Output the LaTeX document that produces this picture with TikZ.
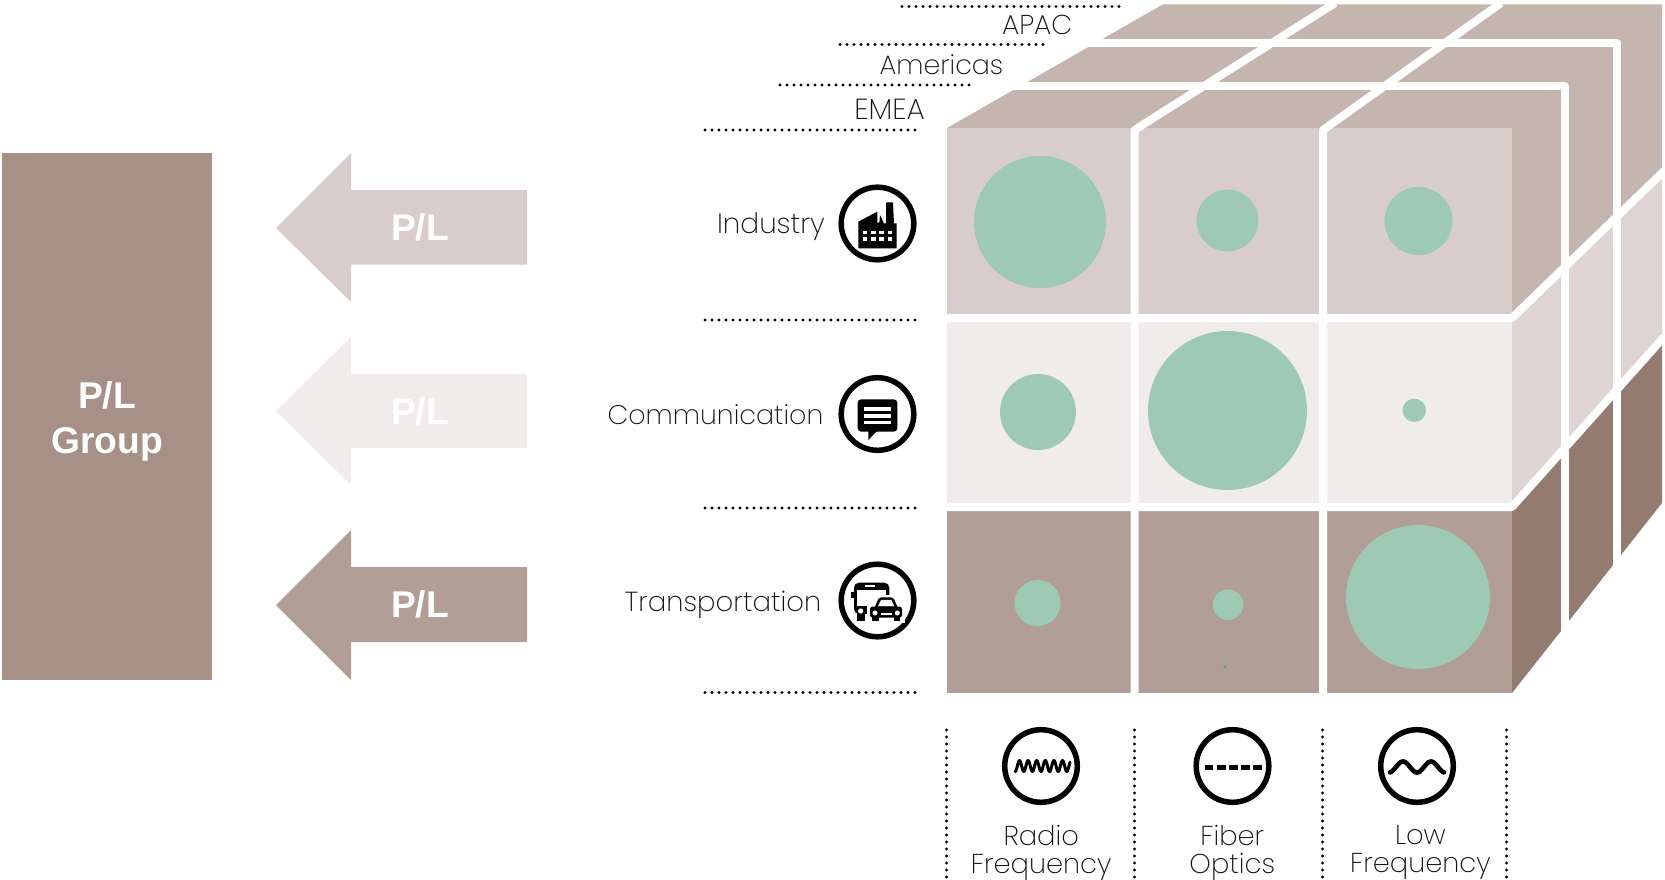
\documentclass[tikz,border=0pt]{standalone}
\usepackage{fontspec}
\setmainfont{Liberation Sans}
\newfontfamily\lightf[UprightFont=* ExtraLight]{Poppins}
\definecolor{topc}{HTML}{C4B5AF}
\definecolor{rowa}{HTML}{D9CDCB}
\definecolor{rowb}{HTML}{F0ECEB}
\definecolor{rowc}{HTML}{B09E97}
\definecolor{sideb}{HTML}{DED4D1}
\definecolor{sidec}{HTML}{947B70}
\definecolor{groupc}{HTML}{A69087}
\definecolor{bub}{HTML}{9EC9B5}
\definecolor{speck}{HTML}{3BA585}
\definecolor{txt}{HTML}{111111}
\tikzset{
  dotline/.style={line width=3.2pt,line cap=round,dash pattern=on 0pt off 7pt,black},
  gap/.style={white,line width=8pt,line join=round},
  bubble/.style={fill=bub,draw=none},
  ring/.style={draw=black,line width=5.5pt,fill=white},
  lab/.style={font=\lightf\fontsize{#1}{28}\selectfont,text=txt,inner sep=0pt},
  labr/.style={lab=#1,anchor=base east},
  labc/.style={lab=27.3,align=center,anchor=center},
  pl/.style={font=\bfseries\fontsize{37.2}{45}\selectfont,text=white,inner sep=0pt,align=center},
  zoomed/.style={x=0.3333pt,y=-0.3333pt},
}
\begin{document}
\begin{tikzpicture}[x=1pt,y=-1pt]
\useasboundingbox (0,0) rectangle (1665,880);
\fill[white] (0,0) rectangle (1665,880);
% left block
\fill[groupc] (2,153) rectangle (212,680);
\node[pl] (group) at (107,421) {P/L\\Group};
% arrows
\fill[rowa] (276,228) -- (351,153) -- (351,190) -- (527,190) -- (527,264.5) -- (351,264.5) -- (351,302) -- cycle;
\node[pl] (pla) at (420,227.5) {P/L};
\fill[rowb] (276,411) -- (351,337) -- (351,374) -- (527,374) -- (527,448) -- (351,448) -- (351,485) -- cycle;
\node[pl] (plb) at (420,411) {P/L};
\fill[rowc] (276,605) -- (351,530) -- (351,567) -- (527,567) -- (527,642) -- (351,642) -- (351,680) -- cycle;
\node[pl] (plc) at (420,604.5) {P/L};
% cube
\fill[topc] (947,128) -- (1163,4.3) -- (1662,4.3) -- (1662,172) -- (1512,318) -- (1512,128) -- cycle;
\fill[rowa] (947,128) rectangle (1512,318);
\fill[rowb] (947,318) rectangle (1512,507);
\fill[rowc] (947,507) rectangle (1512,693);
\fill[sideb] (1512,318) -- (1662,172) -- (1662,338) -- (1512,507) -- cycle;
\fill[sidec] (1512,507) -- (1662,338) -- (1662,503) -- (1512,693) -- cycle;
% gaps
\draw[gap] (1010,86) -- (1564.5,86) -- (1564.5,640);
\draw[gap] (1080,43) -- (1617,43) -- (1617,575);
\draw[gap] (1134.5,694) -- (1134.5,130) -- (1335,3);
\draw[gap] (1323,694) -- (1323,130) -- (1501,3);
\draw[gap] (946,318) -- (1512,318) -- (1664,171);
\draw[gap] (946,507) -- (1512,507) -- (1664,337);
% bubbles
\fill[bubble] (1040,222) circle (66);
\fill[bubble] (1227.5,220.5) circle (31);
\fill[bubble] (1418.5,221) circle (34);
\fill[bubble] (1038,412) circle (38);
\fill[bubble] (1227.5,410.5) circle (79.5);
\fill[bubble] (1414.3,410.3) circle (11.7);
\fill[bubble] (1037.5,603) circle (23);
\fill[bubble] (1228,604.7) circle (15.3);
\fill[bubble] (1418,597) circle (72);
\fill[speck] (1225,667) circle (1.3);
% dotted rules
\draw[dotline] (705,130) -- (917,130);
\draw[dotline] (705,320) -- (917,320);
\draw[dotline] (705,508) -- (917,508);
\draw[dotline] (705,692.5) -- (917,692.5);
\draw[dotline] (780,85) -- (970,85);
\draw[dotline] (840,44.5) -- (1045,44.5);
\draw[dotline] (902,6.5) -- (1120,6.5);
\draw[dotline] (946.5,730) -- (946.5,880);
\draw[dotline] (1134.5,730) -- (1134.5,880);
\draw[dotline] (1322.5,730) -- (1322.5,880);
\draw[dotline] (1506.5,730) -- (1506.5,880);
% labels
\node[labr=29] (emea) at (925,120) {EMEA};
\node[labr=26.8] (americas) at (1003.5,75) {Americas};
\node[labr=27.3] (apac) at (1072.5,35) {APAC};
\node[labr=28] (industry) at (825,233.3) {Industry};
\node[labr=26.9] (comm) at (823.5,424) {Communication};
\node[labr=27.5] (transp) at (821.5,611) {Transportation};
\node[labc] (radio) at (1041.2,852.5) {Radio\\Frequency};
\node[labc] (fiber) at (1232.3,853) {Fiber\\Optics};
\node[labc] (low) at (1420.4,852.5) {Low\\Frequency};
% icon rings
\draw[ring] (877.5,223.5) circle (36.3);
\draw[ring] (877.5,414) circle (36.3);
\draw[ring] (877.5,600.5) circle (36.3);
\draw[ring] (1041,766) circle (36.3);
\draw[ring] (1232.5,766) circle (36.3);
\draw[ring] (1417,766) circle (36.3);
% factory
\begin{scope}[shift={(820,170)},zoomed]
\fill[black] (115,235) -- (115,155) -- (172,125) -- (172,158) -- (178,158) -- (180,135) -- (192,160) -- (198,160) -- (198,97) -- (219,97) -- (222,160) -- (230,160) -- (230,235) -- cycle;
\foreach \wx in {128,153,178,203}{
  \fill[white] (\wx,182) rectangle +(14,11);
  \fill[white] (\wx,200) rectangle +(14,12);
}
\end{scope}
% speech bubble
\begin{scope}[shift={(820,360)},zoomed]
\fill[black,rounded corners=3.5pt] (113,118) rectangle (232,215);
\fill[black] (145,210) -- (145,240) -- (172,212) -- cycle;
\fill[white] (133,142) rectangle (212,153);
\fill[white] (133,162) rectangle (212,173);
\fill[white] (133,182) rectangle (212,193);
\end{scope}
% bus and car
\begin{scope}[shift={(820,545)},zoomed]
\fill[black] (92,140) rectangle (104,160);
\fill[black,rounded corners=5pt] (102,113) rectangle (208,207);
\fill[black] (110,200) rectangle (134,228);
\fill[white] (135,120) rectangle (165,127);
\fill[white] (112,134) rectangle (198,182);
\fill[white] (122,198) circle (8);
\fill[white] (140,150) rectangle (255,235);
\fill[black,rounded corners=2pt] (163,190) -- (177,157) -- (220,157) -- (234,190) -- cycle;
\fill[white] (174,184) -- (183,165) -- (214,165) -- (223,184) -- cycle;
\fill[black,rounded corners=2.5pt] (150,185) rectangle (246,218);
\fill[black] (156,215) rectangle (176,229);
\fill[black] (221,215) rectangle (241,229);
\fill[white] (165,204) circle (7.5);
\fill[white] (232,204) circle (7.5);
\fill[white] (182,204) rectangle (215,211);
\end{scope}
% radio wave
\draw[black,line width=3pt,line join=round,line cap=round] plot[smooth,samples=130,domain=-26:29] (1041+\x,{766+5.5*cos(\x*360/8.6)});
% fibre dashes
\foreach \dx in {0,1,2,3,4}{
  \fill[black] (1204.5+\dx*12.2,765) rectangle +(8.8,4.8);
}
% low frequency wave
\draw[black,line width=4.6pt,line cap=round] plot[smooth,samples=80,domain=-27:27] (1417+\x,{767+5.5*cos(\x*360/28)});
\end{tikzpicture}
\end{document}
